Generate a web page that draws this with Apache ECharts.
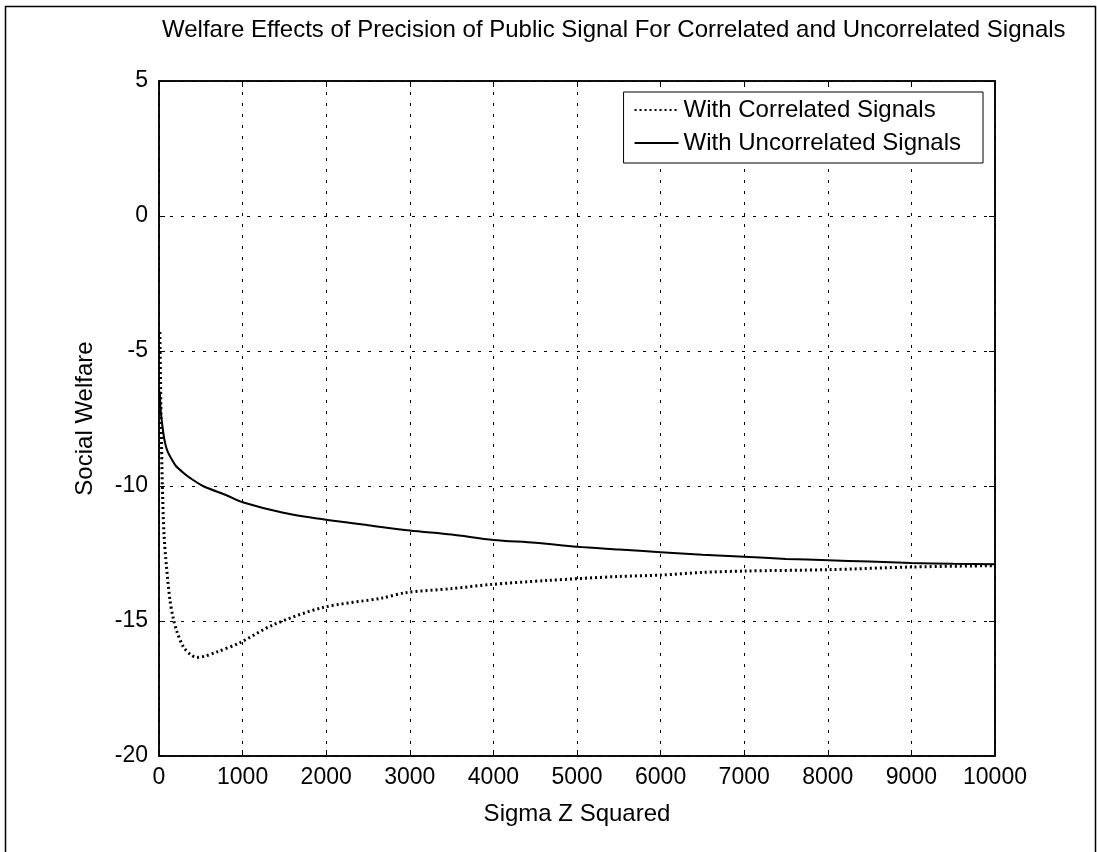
<!DOCTYPE html>
<html>
<head>
<meta charset="utf-8">
<script src="https://cdn.jsdelivr.net/npm/echarts@6/dist/echarts.min.js"></script>
<style>
html,body{margin:0;padding:0;background:#fff;}
#chart{width:1097px;height:852px;}
</style>
</head>
<body>
<div id="chart"></div>
<script>
const titleText = 'Welfare Effects of Precision of Public Signal For Correlated and Uncorrelated Signals';
const xName = 'Sigma Z Squared';
const yName = 'Social Welfare';
const seriesNames = ['With Correlated Signals', 'With Uncorrelated Signals'];

// Correlated (dotted) series
const corrX = [10, 25, 40, 60, 90, 130, 170, 215, 290, 380, 455, 550, 690, 970, 1360, 1960, 2670, 2950, 3500, 3960, 4640, 5500, 6000, 6500, 7000, 8000, 9000, 10000];
const corrY = [-4.3, -7.5, -10, -11.8, -13.0, -14.2, -14.9, -15.4, -15.95, -16.25, -16.35, -16.3, -16.15, -15.8, -15.15, -14.5, -14.15, -13.95, -13.8, -13.65, -13.5, -13.35, -13.3, -13.2, -13.15, -13.1, -13.0, -12.95];

// Uncorrelated (solid) series
const uncX = [10, 20, 50, 72, 100, 150, 200, 287, 370, 526, 813, 1000, 1500, 2000, 2500, 3000, 3500, 4000, 4500, 5000, 5500, 6000, 6500, 7000, 7500, 8000, 8500, 9000, 9500, 10000];
const uncY = [-6.5, -7.2, -8.0, -8.4, -8.7, -9.0, -9.25, -9.5, -9.7, -10.0, -10.35, -10.6, -11.0, -11.25, -11.45, -11.65, -11.8, -12.0, -12.1, -12.25, -12.35, -12.45, -12.55, -12.62, -12.7, -12.75, -12.8, -12.85, -12.88, -12.9];

const xTicks = {min: 0, max: 10000, interval: 1000};
const yTicks = {min: -20, max: 5, interval: 5};

const FONT = '"Liberation Sans", Arial, sans-serif';
const chart = echarts.init(document.getElementById('chart'));
const gridLine = {show: true, lineStyle: {color: '#000', width: 1, type: [3, 8]}};
const lbl = {color: '#000', fontFamily: FONT, fontSize: 23, formatter: v => String(v)};
const nameStyle = {color: '#000', fontFamily: FONT, fontSize: 24};

chart.setOption({
  backgroundColor: '#fff',
  animation: false,
  title: {
    text: titleText, left: 157, top: 13,
    textStyle: {color: '#000', fontFamily: FONT, fontSize: 24, fontWeight: 'normal'}
  },
  legend: {
    orient: 'vertical', right: 114, top: 92,
    backgroundColor: '#fff', borderColor: '#000', borderWidth: 1,
    padding: [6, 22, 8, 10], itemGap: 9, itemWidth: 44, itemHeight: 14,
    itemStyle: {color: 'transparent', borderWidth: 0},
    textStyle: {color: '#000', fontFamily: FONT, fontSize: 24},
    data: seriesNames
  },
  grid: {left: 159, right: 102, top: 81, bottom: 96, show: true, borderColor: '#000', borderWidth: 1.5, backgroundColor: 'transparent'},
  xAxis: [{
    type: 'value', min: xTicks.min, max: xTicks.max, interval: xTicks.interval,
    name: xName, nameLocation: 'middle', nameGap: 46, nameTextStyle: nameStyle,
    axisLine: {show: true, onZero: false, lineStyle: {color: '#000', width: 1.5}},
    axisTick: {show: true, inside: true, length: 6, lineStyle: {color: '#000'}},
    axisLabel: Object.assign({margin: 10}, lbl),
    splitLine: gridLine
  }, {
    type: 'value', position: 'top', min: xTicks.min, max: xTicks.max, interval: xTicks.interval,
    axisLine: {show: true, onZero: false, lineStyle: {color: '#000', width: 1.5}},
    axisTick: {show: true, inside: true, length: 6, lineStyle: {color: '#000'}},
    axisLabel: {show: false}, splitLine: {show: false}
  }],
  yAxis: [{
    type: 'value', min: yTicks.min, max: yTicks.max, interval: yTicks.interval,
    name: yName, nameLocation: 'middle', nameGap: 62, nameRotate: 90, nameTextStyle: nameStyle,
    axisLine: {show: true, onZero: false, lineStyle: {color: '#000', width: 1.5}},
    axisTick: {show: true, inside: true, length: 6, lineStyle: {color: '#000'}},
    axisLabel: Object.assign({margin: 11}, lbl),
    splitLine: gridLine
  }, {
    type: 'value', position: 'right', min: yTicks.min, max: yTicks.max, interval: yTicks.interval,
    axisLine: {show: true, onZero: false, lineStyle: {color: '#000', width: 1.5}},
    axisTick: {show: true, inside: true, length: 6, lineStyle: {color: '#000'}},
    axisLabel: {show: false}, splitLine: {show: false}
  }],
  series: [{
    name: seriesNames[0], type: 'line', symbol: 'none', smooth: 0.3,
    lineStyle: {color: '#000', width: 3, type: [2, 3]},
    itemStyle: {color: '#000'},
    data: corrX.map((x, i) => [x, corrY[i]])
  }, {
    name: seriesNames[1], type: 'line', symbol: 'none', smooth: 0.3,
    lineStyle: {color: '#000', width: 2},
    itemStyle: {color: '#000'},
    data: uncX.map((x, i) => [x, uncY[i]])
  }],
  graphic: [{
    type: 'rect', left: 3, top: 4, silent: true,
    shape: {width: 1090, height: 870},
    style: {fill: 'none', stroke: '#000', lineWidth: 1.5}
  }]
});
</script>
</body>
</html>
